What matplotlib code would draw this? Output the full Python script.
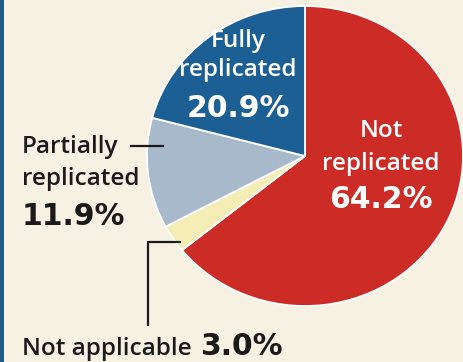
import matplotlib.pyplot as plt
from matplotlib.patches import Rectangle

# slices clockwise from 12 o'clock
labels = ["Not replicated", "Not applicable", "Partially replicated", "Fully replicated"]
shares = [64.2, 3.0, 11.9, 20.9]
colors = ["#cd2b26", "#f5edb6", "#a9b9cc", "#1b5f94"]

bg = "#f7f1e4"
W, H = 464, 362

fig = plt.figure(figsize=(W / 100, H / 100), dpi=100, facecolor=bg)

# pie sits in its own axes (picture is slightly wider than tall)
ax = fig.add_axes([147 / W, (H - 306) / H, 316 / W, 300 / H])
ax.pie(shares, colors=colors, startangle=90, counterclock=False, radius=1,
       wedgeprops=dict(edgecolor="white", linewidth=1.3))
ax.set_aspect("auto")
ax.set_xlim(-1, 1)
ax.set_ylim(-1, 1)

# overlay in pixel coords for the labels and leader lines
ov = fig.add_axes([0, 0, 1, 1])
ov.set_xlim(0, W)
ov.set_ylim(H, 0)
ov.axis("off")
ov.patch.set_alpha(0)

ov.add_patch(Rectangle((0, 0), 4, H, color="#1d5a88", lw=0))

reg = dict(family="Open Sans", fontweight="semibold", fontsize=17.5, va="baseline")
big = dict(family="DejaVu Sans", fontweight="bold", fontsize=21.5, va="baseline")

# fully replicated (inside blue)
ov.text(238, 47, "Fully", color="white", ha="center", **reg)
ov.text(238, 76, "replicated", color="white", ha="center", **reg)
ov.text(238, 117, f"{shares[3]}%", color="white", ha="center", **big)

# not replicated (inside red)
ov.text(381, 137, "Not", color="white", ha="center", **reg)
ov.text(381, 170, "replicated", color="white", ha="center", **reg)
ov.text(381, 208, f"{shares[0]}%", color="white", ha="center", **big)

# partially replicated (left)
ov.text(22, 153, "Partially", color="#1a1a1a", ha="left", **reg)
ov.plot([131, 163], [146, 146], color="#1a1a1a", lw=1.6)
ov.text(22, 185, "replicated", color="#1a1a1a", ha="left", **reg)
ov.text(22, 225, f"{shares[2]}%", color="#1a1a1a", ha="left", **big)

# not applicable (bottom) with elbow leader
ov.plot([180, 148, 148], [242, 242, 325], color="#1a1a1a", lw=1.6)
ov.text(22, 355, "Not applicable", color="#1a1a1a", ha="left", **reg)
ov.text(200, 355, f"{shares[1]}%", color="#1a1a1a", ha="left", **big)

fig.savefig("out.png", dpi=100, facecolor=bg)
